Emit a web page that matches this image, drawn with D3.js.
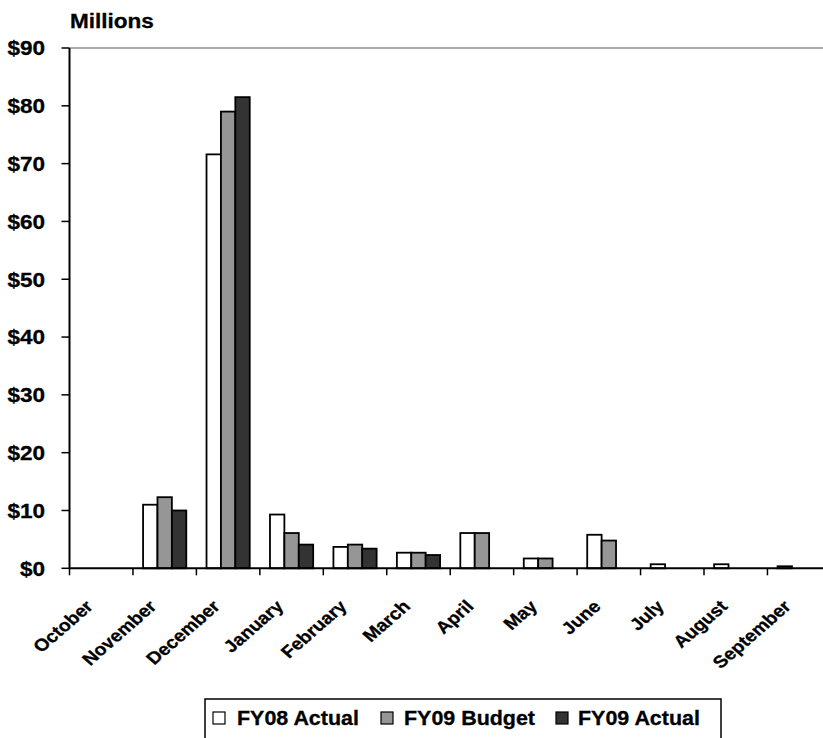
<!DOCTYPE html>
<html><head><meta charset="utf-8">
<script src="https://cdn.jsdelivr.net/npm/d3@7"></script>
<style>body{margin:0;background:#fff}svg{display:block}</style>
</head><body>
<script>
const months = ["October","November","December","January","February","March","April","May","June","July","August","September"];
const seriesNames = ["FY08 Actual","FY09 Budget","FY09 Actual"];
const fy08Actual = [0, 11.0, 71.6, 9.3, 3.7, 2.7, 6.1, 1.7, 5.8, 0.7, 0.7, 0.35];
const fy09Budget = [0, 12.3, 79.0, 6.1, 4.1, 2.7, 6.1, 1.7, 4.8, 0, 0, 0];
const fy09Actual = [0, 10.0, 81.5, 4.1, 3.4, 2.3, 0, 0, 0, 0, 0, 0];
const yTicks = [0,10,20,30,40,50,60,70,80,90];
const colors = ["#ffffff","#969696","#333333"];

const W = 823, H = 738, SX = 1.1;
const font = "Arial, 'Liberation Sans', sans-serif";
const svg = d3.select("body").append("svg").attr("width", W).attr("height", H);

const x = d3.scaleBand().domain(months).range([69.5, 69.5 + 12*63.45]).padding(0);
const xs = d3.scaleBand().domain(seriesNames).range([0, x.bandwidth()]).paddingInner(0).paddingOuter(0.703);
const y = d3.scaleLinear().domain([0, 90]).range([568.3, 48]);

const data = [fy08Actual, fy09Budget, fy09Actual];

function stxt(g, txt, px, py, anchor, rot, size, sx) {
  const s = sx === undefined ? SX : sx;
  return g.append("text")
    .attr("transform", `translate(${px},${py}) scale(${s},1)` + (rot ? ` rotate(${rot})` : ""))
    .attr("text-anchor", anchor)
    .attr("font-family", font).attr("font-weight", "bold").attr("font-size", size || 20.5)
    .attr("fill", "#000").attr("stroke", "#000").attr("stroke-width", 0.3).text(txt);
}

// top gridline
svg.append("line").attr("x1", x.range()[0]).attr("x2", W).attr("y1", y(90)).attr("y2", y(90))
  .attr("stroke", "#8c8c8c").attr("stroke-width", 1.5);

// bars
seriesNames.forEach((s, i) => {
  svg.append("g").selectAll("rect").data(months.map((m, j) => ({m, v: data[i][j]})).filter(d => d.v > 0))
    .join("rect")
    .attr("x", d => x(d.m) + xs(s))
    .attr("width", xs.bandwidth())
    .attr("y", d => y(d.v))
    .attr("height", d => y(0) - y(d.v))
    .attr("fill", colors[i]).attr("stroke", "#000").attr("stroke-width", 1.8);
});

// y axis
const yAxis = svg.append("g");
yAxis.append("line").attr("x1", x.range()[0]).attr("x2", x.range()[0]).attr("y1", y(90)).attr("y2", y(0))
  .attr("stroke", "#000").attr("stroke-width", 2);
yTicks.forEach(v => {
  yAxis.append("line").attr("x1", x.range()[0] - 8).attr("x2", x.range()[0]).attr("y1", y(v)).attr("y2", y(v))
    .attr("stroke", "#000").attr("stroke-width", 1.5);
  stxt(yAxis, "$" + v, 45, y(v) + 7.3, "end", 0);
});

// x axis
const xAxis = svg.append("g");
xAxis.append("line").attr("x1", x.range()[0]).attr("x2", W).attr("y1", y(0)).attr("y2", y(0))
  .attr("stroke", "#000").attr("stroke-width", 2);
months.concat(["_end"]).forEach((m, j) => {
  const xx = x.range()[0] + j * x.step();
  xAxis.append("line").attr("x1", xx).attr("x2", xx).attr("y1", y(0)).attr("y2", y(0) + 7)
    .attr("stroke", "#000").attr("stroke-width", 1.5);
});
months.forEach(m => {
  stxt(xAxis, m, x(m) + x.bandwidth()/2 - 7, 607.5, "end", -45, 17, 1.15);
});

// title
stxt(svg, "Millions", 70, 27.5, "start", 0);

// legend
const lg = svg.append("g");
lg.append("rect").attr("x", 205).attr("y", 699).attr("width", 516).attr("height", 60)
  .attr("fill", "#fff").attr("stroke", "#000").attr("stroke-width", 1.5);
const lgSq = [213, 381, 556], lgTx = [237, 404, 578];
seriesNames.forEach((s, i) => {
  lg.append("rect").attr("x", lgSq[i]).attr("y", 712).attr("width", 12).attr("height", 12)
    .attr("fill", colors[i]).attr("stroke", "#000").attr("stroke-width", 1.2);
  stxt(lg, s, lgTx[i], 724.5, "start", 0, 19.5);
});
</script>
</body></html>
